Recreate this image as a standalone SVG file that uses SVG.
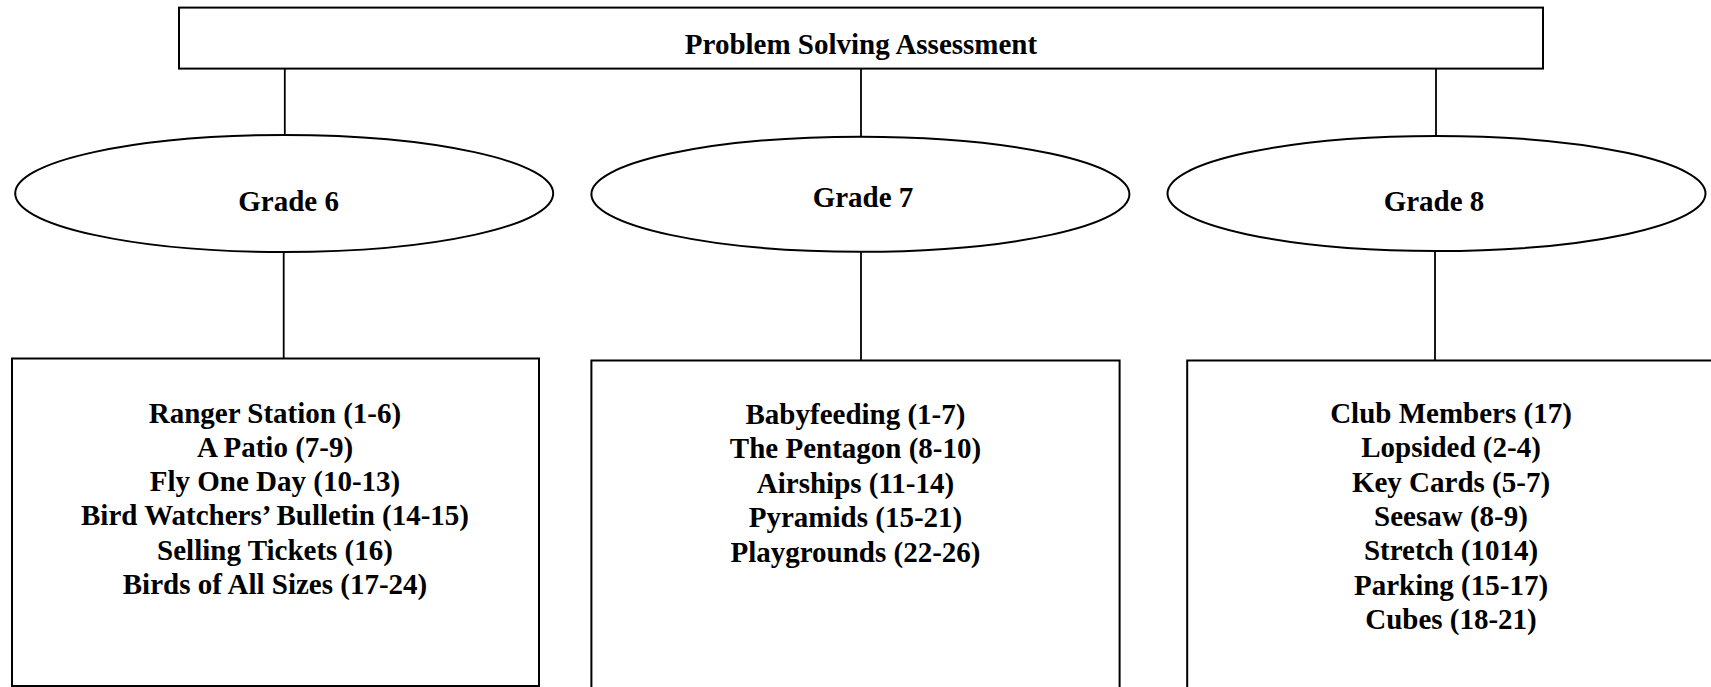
<svg xmlns="http://www.w3.org/2000/svg" width="1711" height="687" viewBox="0 0 1711 687">
<style>
.shape{fill:#fff;stroke:#000;stroke-width:2}
.conn{stroke:#000;stroke-width:1.8;fill:none}
text{font-family:"Liberation Serif","Times New Roman",serif;font-weight:bold;font-size:29px;fill:#000;text-anchor:middle}
</style>
<rect width="1711" height="687" fill="#fff"/>
<g id="connectors">
<line class="conn" x1="284.8" y1="68.7" x2="284.8" y2="135"/>
<line class="conn" x1="861" y1="68.7" x2="861" y2="136.7"/>
<line class="conn" x1="1436" y1="68.7" x2="1436" y2="136"/>
<line class="conn" x1="283.7" y1="252" x2="283.7" y2="363"/>
<line class="conn" x1="861" y1="252" x2="861" y2="360.5"/>
<line class="conn" x1="1435" y1="251" x2="1435" y2="360.5"/>
</g>
<g id="root">
<rect class="shape" x="179" y="7.6" width="1364" height="61"/>
<text x="861" y="53.5">Problem Solving Assessment</text>
</g>
<g id="grade6">
<ellipse class="shape" cx="284.2" cy="193.5" rx="269" ry="58.5"/>
<text x="288.6" y="211">Grade 6</text>
</g>
<g id="grade7">
<ellipse class="shape" cx="860.4" cy="194.2" rx="269" ry="57.5"/>
<text x="863" y="207">Grade 7</text>
</g>
<g id="grade8">
<ellipse class="shape" cx="1436.5" cy="193.5" rx="269" ry="57.5"/>
<text x="1434" y="211">Grade 8</text>
</g>
<g id="list6">
<rect class="shape" x="12" y="358.5" width="527" height="327.5"/>
<text x="275" y="422.5">Ranger Station (1-6)</text>
<text x="275" y="456.8">A Patio (7-9)</text>
<text x="275" y="491">Fly One Day (10-13)</text>
<text x="275" y="525.3">Bird Watchers’ Bulletin (14-15)</text>
<text x="275" y="559.6">Selling Tickets (16)</text>
<text x="275" y="593.9">Birds of All Sizes (17-24)</text>
</g>
<g id="list7">
<path class="shape" d="M591.4,690 V360.5 H1119.6 V690"/>
<text x="855.5" y="423.5">Babyfeeding (1-7)</text>
<text x="855.5" y="458">The Pentagon (8-10)</text>
<text x="855.5" y="492.5">Airships (11-14)</text>
<text x="855.5" y="527">Pyramids (15-21)</text>
<text x="855.5" y="561.5">Playgrounds (22-26)</text>
</g>
<g id="list8">
<path class="shape" d="M1187.2,690 V360.5 H1715"/>
<text x="1451" y="423">Club Members (17)</text>
<text x="1451" y="457.3">Lopsided (2-4)</text>
<text x="1451" y="491.6">Key Cards (5-7)</text>
<text x="1451" y="525.9">Seesaw (8-9)</text>
<text x="1451" y="560.2">Stretch (1014)</text>
<text x="1451" y="594.5">Parking (15-17)</text>
<text x="1451" y="628.8">Cubes (18-21)</text>
</g>
</svg>
